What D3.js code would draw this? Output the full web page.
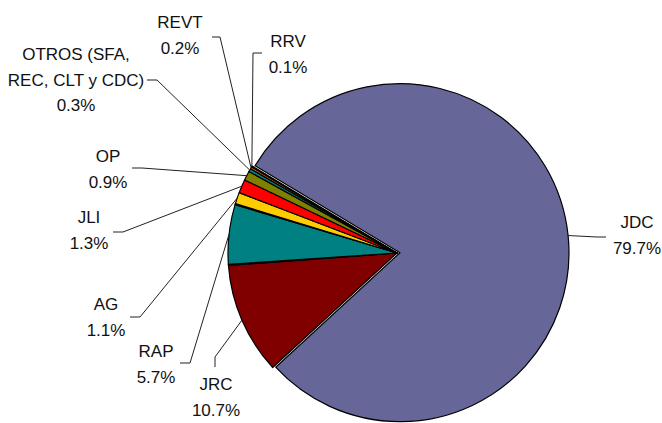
<!DOCTYPE html>
<html>
<head>
<meta charset="utf-8">
<script src="https://cdn.jsdelivr.net/npm/d3@7"></script>
<style>
  body { margin: 0; background: #fff; }
  text { font-family: "Liberation Sans", Arial, sans-serif; font-size: 17px; fill: #111; }
</style>
</head>
<body>
<script>
const W = 662, H = 423;

// datos (orden de las rebanadas, sentido horario desde JDC)
const categories = ["JDC", "JRC", "gap1", "RAP", "gap2", "AG", "JLI", "OP", "OTROS", "REVT", "RRV"];
const values = [79.7, 10.7, 0.1, 5.7, 0.1, 1.1, 1.3, 0.9, 0.3, 0.2, 0.1];
const labelLines = {
  JDC: ["JDC", "79.7%"],
  JRC: ["JRC", "10.7%"],
  RAP: ["RAP", "5.7%"],
  AG: ["AG", "1.1%"],
  JLI: ["JLI", "1.3%"],
  OP: ["OP", "0.9%"],
  OTROS: ["OTROS (SFA,", "REC, CLT y CDC)", "0.3%"],
  REVT: ["REVT", "0.2%"],
  RRV: ["RRV", "0.1%"]
};
const colors = ["#666699", "#800000", "#999999", "#008080", "#999999", "#FFCC00", "#FF0000", "#808000", "#008080", "#FF6600", "#00FF00"];

// posiciones de las etiquetas (x centro, baseline primera linea, codo de la guia)
const layout = {
  JDC:   { x: 637, y: 228, leader: [[606, 237], [597, 237]] },
  JRC:   { x: 216, y: 390, leader: [[215, 367], [215, 357]] },
  RAP:   { x: 156, y: 357, leader: [[180, 363], [190, 363]] },
  AG:    { x: 106, y: 310, leader: [[130, 317], [140, 317]] },
  JLI:   { x: 89,  y: 223, leader: [[113, 232], [123, 232]] },
  OP:    { x: 108, y: 162, leader: [[132, 168], [142, 168]] },
  OTROS: { x: 76,  y: 60,  leader: [[147, 80], [157, 80]] },
  REVT:  { x: 180, y: 28,  leader: [[212, 37], [220, 37]] },
  RRV:   { x: 288, y: 47,  leader: [[262, 53], [253, 53]] }
};

const cx = 397, cy = 253, r = 169, explodeJDC = 3;
const lineH = 25.5;

const svg = d3.select("body").append("svg")
  .attr("width", W)
  .attr("height", H);

svg.append("rect").attr("width", W).attr("height", H).attr("fill", "#fff");

const rad = d => d * Math.PI / 180;
const pie = d3.pie().sort(null).value(d => d.v)
  .startAngle(rad(-59)).endAngle(rad(301));
const arcs = pie(categories.map((c, i) => ({ c: c, v: values[i], col: colors[i] })));
const arc = d3.arc().innerRadius(0).outerRadius(r);

const g = svg.append("g").attr("transform", `translate(${cx},${cy})`);

function offset(d) {
  if (d.data.c !== "JDC") return [0, 0];
  const a = (d.startAngle + d.endAngle) / 2;
  return [Math.sin(a) * explodeJDC, -Math.cos(a) * explodeJDC];
}

g.selectAll("path")
  .data(arcs)
  .enter()
  .append("path")
  .attr("d", arc)
  .attr("transform", d => `translate(${offset(d)})`)
  .attr("fill", d => d.data.col)
  .attr("stroke", "#000")
  .attr("stroke-width", 1.2)
  .attr("stroke-linejoin", "round");

// guias y etiquetas
const labelled = arcs.filter(d => labelLines[d.data.c]);

svg.selectAll("polyline.leader")
  .data(labelled)
  .enter()
  .append("polyline")
  .attr("class", "leader")
  .attr("fill", "none")
  .attr("stroke", "#222")
  .attr("stroke-width", 1)
  .attr("points", d => {
    const a = (d.startAngle + d.endAngle) / 2;
    const o = offset(d);
    const end = [cx + o[0] + Math.sin(a) * r, cy + o[1] - Math.cos(a) * r];
    const pts = layout[d.data.c].leader.concat([end]);
    return pts.map(p => p.join(",")).join(" ");
  });

const lbl = svg.selectAll("text.lbl")
  .data(labelled)
  .enter()
  .append("text")
  .attr("class", "lbl")
  .attr("text-anchor", "middle");

lbl.selectAll("tspan")
  .data(d => labelLines[d.data.c].map((t, i) => ({ t: t, i: i, c: d.data.c })))
  .enter()
  .append("tspan")
  .attr("x", d => layout[d.c].x)
  .attr("y", d => layout[d.c].y + d.i * lineH)
  .text(d => d.t);
</script>
</body>
</html>
